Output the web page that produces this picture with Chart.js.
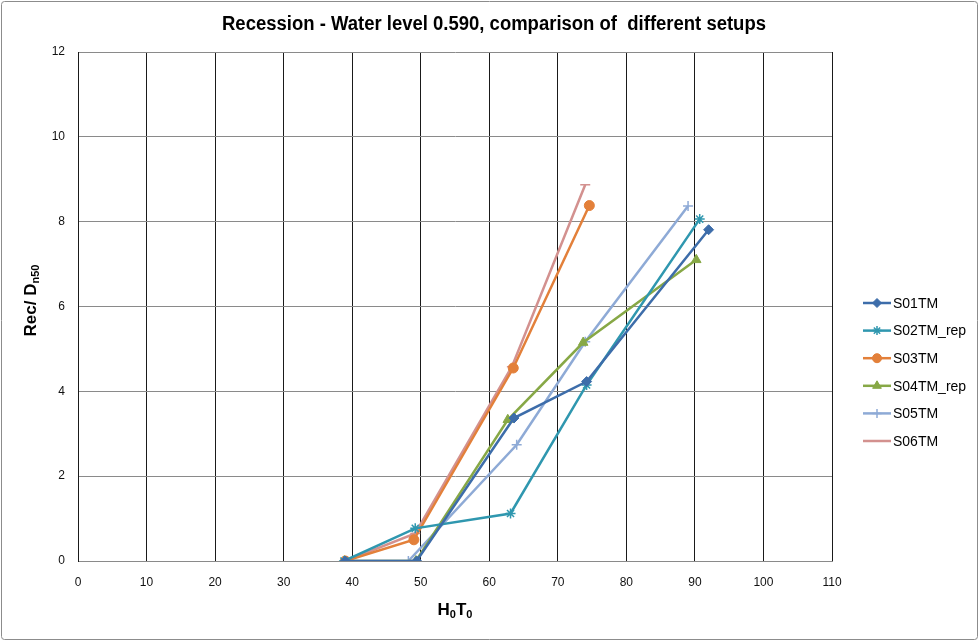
<!DOCTYPE html>
<html>
<head>
<meta charset="utf-8">
<script src="https://cdn.jsdelivr.net/npm/chart.js@4"></script>
<style>
  html, body { margin: 0; padding: 0; background: #fff; }
  #wrap { width: 980px; height: 641px; position: relative; }
</style>
</head>
<body>
<div id="wrap"><canvas id="recChart" width="980" height="641"></canvas></div>
<script>
// values
const seriesNames = ['S01TM', 'S02TM_rep', 'S03TM', 'S04TM_rep', 'S05TM', 'S06TM'];
const s01x = [39.0, 49.4, 63.6, 74.2, 92.0];
const s01y = [0.00, 0.00, 3.37, 4.23, 7.81];
const s02x = [38.8, 49.2, 63.1, 74.2, 90.7];
const s02y = [0.00, 0.77, 1.12, 4.15, 8.06];
const s03x = [39.0, 49.0, 63.5, 74.6];
const s03y = [0.00, 0.50, 4.55, 8.38];
const s04x = [38.9, 49.3, 62.7, 73.7, 90.2];
const s04y = [0.00, 0.00, 3.33, 5.15, 7.10];
const s05x = [39.0, 48.2, 64.0, 74.0, 89.0];
const s05y = [0.00, 0.00, 2.74, 5.17, 8.37];
const s06x = [39.0, 49.2, 63.3, 74.0];
const s06y = [0.00, 0.65, 4.58, 8.87];
const xTicks = [0, 10, 20, 30, 40, 50, 60, 70, 80, 90, 100, 110];
const yTicks = [0, 2, 4, 6, 8, 10, 12];

const colors = ['#3D6DAA', '#2F97AF', '#E3803A', '#87A846', '#8EAAD6', '#D3918F'];
const markers = ['rectRot', 'star', 'circle', 'triangle', 'cross', 'line'];
const markerSize = [5, 5, 5, 5.5, 5, 5];
const xs = [s01x, s02x, s03x, s04x, s05x, s06x];
const ys = [s01y, s02y, s03y, s04y, s05y, s06y];

const narrow = "'Liberation Sans Narrow', 'Arial Narrow', 'Liberation Sans', Arial, sans-serif";

const datasets = seriesNames.map((name, i) => ({
    label: name,
    data: xs[i].map((x, j) => ({ x: x, y: ys[i][j] })),
    borderColor: colors[i],
    backgroundColor: colors[i],
    borderWidth: 2.5,
    pointStyle: markers[i],
    pointRadius: markerSize[i],
    pointBorderWidth: (markers[i] === 'star' || markers[i] === 'cross' || markers[i] === 'line') ? 1.5 : 1,
    pointBorderColor: colors[i],
    pointBackgroundColor: colors[i],
    tension: 0,
    fill: false
}));

// squeezed text, like the narrow Excel font
function narrowText(c, text, x, y, width) {
    const w = c.measureText(text).width;
    c.save();
    c.translate(x, y);
    c.scale(width / w, 1);
    c.textAlign = 'center';
    c.fillText(text, 0, 0);
    c.restore();
}

// titles with subscripts, the frame and the legend, Excel style
const excelDecor = {
    id: 'excelDecor',
    beforeDraw(chart) {
        const c = chart.ctx;
        c.save();
        c.fillStyle = '#fff';
        c.fillRect(0, 0, chart.width, chart.height);
        c.strokeStyle = '#8c8c8c';
        c.lineWidth = 1;
        c.beginPath();
        c.roundRect(1.5, 1.5, chart.width - 4, chart.height - 3, 3);
        c.stroke();
        c.restore();
    },
    afterDraw(chart) {
        const c = chart.ctx;
        const area = chart.chartArea;
        c.save();
        c.fillStyle = '#000';
        c.textBaseline = 'middle';

        // main title
        c.font = 'bold 20px ' + narrow;
        narrowText(c, 'Recession - Water level 0.590, comparison of  different setups', 494, 24, 544);

        // x title H0T0
        const cx = (area.left + area.right) / 2;
        const big = 'bold 17px ' + narrow, small = 'bold 11px ' + narrow;
        c.font = big; const wH = c.measureText('H').width, wT = c.measureText('T').width;
        c.font = small; const w0 = c.measureText('0').width;
        let x = cx - (wH + wT + 2 * w0) / 2, y = 610;
        c.textAlign = 'left';
        c.font = big; c.fillText('H', x, y); x += wH;
        c.font = small; c.fillText('0', x, y + 5); x += w0;
        c.font = big; c.fillText('T', x, y); x += wT;
        c.font = small; c.fillText('0', x, y + 5);

        // y title Rec/ Dn50
        c.translate(31, (area.top + area.bottom) / 2 - 6);
        c.rotate(-Math.PI / 2);
        c.font = big; const wR = c.measureText('Rec/ D').width;
        c.font = small; const wN = c.measureText('n50').width;
        x = -(wR + wN) / 2;
        c.font = big; c.fillText('Rec/ D', x, 0);
        c.font = small; c.fillText('n50', x + wR, 5);
        c.restore();

        // legend
        c.save();
        c.textBaseline = 'middle';
        c.textAlign = 'left';
        c.font = '14px ' + narrow;
        chart.data.datasets.forEach((ds, i) => {
            const ly = 303 + i * 27.6;
            c.strokeStyle = ds.borderColor;
            c.lineWidth = 2.5;
            c.beginPath();
            c.moveTo(863, ly);
            c.lineTo(891, ly);
            c.stroke();
            c.fillStyle = ds.pointBackgroundColor;
            c.strokeStyle = ds.pointBorderColor;
            c.lineWidth = ds.pointBorderWidth;
            Chart.helpers.drawPoint(c, {
                pointStyle: ds.pointStyle,
                radius: ds.pointRadius - 0.5,
                borderWidth: ds.pointBorderWidth,
                rotation: 0
            }, 877, ly);
            c.fillStyle = '#000';
            c.fillText(ds.label, 893, ly + 1);
        });
        c.restore();
    }
};

const ctx = document.getElementById('recChart').getContext('2d');
const recChart = new Chart(ctx, {
    type: 'line',
    data: { datasets: datasets },
    options: {
        responsive: false,
        animation: false,
        layout: { padding: { top: 52, right: 148, left: 0, bottom: 0 } },
        plugins: {
            legend: { display: false },
            title: { display: false },
            tooltip: { enabled: false }
        },
        scales: {
            x: {
                type: 'linear',
                min: 0,
                max: 110,
                afterFit(scale) { scale.height = 80; },
                afterBuildTicks(scale) { scale.ticks = xTicks.map(v => ({ value: v })); },
                grid: { color: '#1a1a1a', lineWidth: 1, drawTicks: false },
                border: { color: '#8a8a8a', width: 1 },
                ticks: {
                    padding: 14,
                    color: '#111',
                    font: { family: narrow, size: 12 }
                }
            },
            y: {
                type: 'linear',
                min: 0,
                max: 12,
                afterFit(scale) { scale.width = 78; },
                afterBuildTicks(scale) { scale.ticks = yTicks.map(v => ({ value: v })); },
                grid: { color: '#8a8a8a', lineWidth: 1, drawTicks: false },
                border: { color: '#1a1a1a', width: 1 },
                ticks: {
                    padding: 13,
                    color: '#111',
                    font: { family: narrow, size: 12 }
                }
            }
        }
    },
    plugins: [excelDecor]
});
</script>
</body>
</html>
